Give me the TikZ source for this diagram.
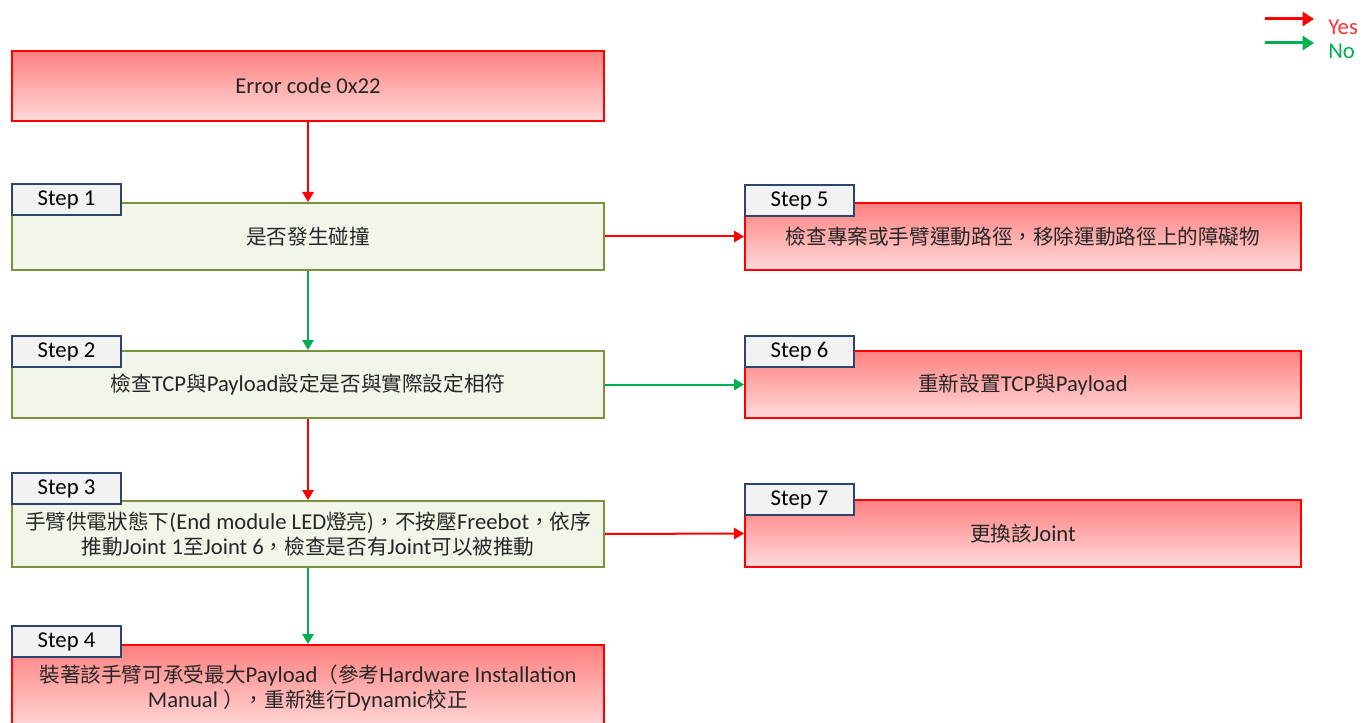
\documentclass[tikz,border=0pt]{standalone}
\usepackage{fontspec}
\setmainfont{Carlito}
\newfontfamily\zhfont[Scale=0.91,Script=CJK,Language=Chinese Traditional]{Noto Sans CJK TC}
\newcommand\zh[1]{{\zhfont #1}}
\usetikzlibrary{arrows.meta}
\definecolor{redline}{HTML}{FF0000}
\definecolor{redtop}{HTML}{FF8080}
\definecolor{redbot}{HTML}{FFDADA}
\definecolor{greenline}{HTML}{77933C}
\definecolor{greenedge}{HTML}{F1F6E8}
\definecolor{greenmid}{HTML}{D8E7BD}
\definecolor{tabline}{HTML}{2B4470}
\definecolor{tabfill}{HTML}{F2F2F2}
\definecolor{yesarrow}{HTML}{FF0000}
\definecolor{noarrow}{HTML}{00B050}
\definecolor{txt}{HTML}{262626}
\tikzset{
  base/.style={anchor=north west, inner sep=0pt, align=center, text=txt,
    font=\fontsize{17}{18.75}\selectfont, line width=1.5pt},
  redbox/.style={base, draw=redline, top color=redtop, bottom color=redbot},
  greenbox/.style={base, draw=greenline, left color=greenedge, middle color=greenmid, right color=greenedge},
  wideL/.style={minimum width=444pt},
  wideR/.style={minimum width=417pt},
  tabbox/.style={base, draw=tabline, fill=tabfill, text=black, minimum width=81.75pt, minimum height=23.25pt},
  yesflow/.style={draw=yesarrow, line width=1.5pt, -{Triangle[length=7.5pt,width=8.5pt]}},
  noflow/.style={draw=noarrow, line width=1.5pt, -{Triangle[length=7.5pt,width=8.5pt]}},
  legendarrow/.style={line width=2.25pt, -{Triangle[length=8.5pt,width=10.5pt]}},
  legendtext/.style={anchor=west, inner sep=0pt, font=\fontsize{17}{18}\selectfont}
}
\begin{document}
\begin{tikzpicture}[x=0.75pt,y=-0.75pt]
\useasboundingbox (0,0) rectangle (1362,723);
\clip (0,0) rectangle (1362,723);

% main boxes
\node[redbox, wideL, minimum height=52.5pt] (err) at (11,50) {Error code 0x22};
\node[greenbox, wideL, minimum height=50.25pt] (s1) at (11,202) {\zh{是否發生碰撞}};
\node[greenbox, wideL, minimum height=50.25pt] (s2) at (11,350) {\zh{檢查}TCP\zh{與}Payload\zh{設定是否與實際設定相符}};
\node[greenbox, wideL, minimum height=49.5pt] (s3) at (11,500) {\zh{手臂供電狀態下}(End module LED\zh{燈亮)，不按壓}Freebot\zh{，依序}\\[0.5pt]\zh{推動}Joint 1\zh{至}Joint 6\zh{，檢查是否有}Joint\zh{可以被推動}};
\node[redbox, wideL, minimum height=64.5pt] (s4) at (11,644) {\zh{裝著該手臂可承受最大}Payload\zh{（參考}Hardware Installation\\[-0.5pt]Manual \zh{），重新進行}Dynamic\zh{校正}};
\node[redbox, wideR, minimum height=50.25pt] (s5) at (744,202) {\zh{檢查專案或手臂運動路徑，移除運動路徑上的障礙物}};
\node[redbox, wideR, minimum height=50.25pt] (s6) at (744,350) {\zh{重新設置}TCP\zh{與}Payload};
\node[redbox, wideR, minimum height=50.25pt] (s7) at (744,499) {\zh{更換該}Joint};

% tabs
\node[tabbox] (t1) at (11,183) {Step 1};
\node[tabbox] (t2) at (11,335) {Step 2};
\node[tabbox] (t3) at (11,472) {Step 3};
\node[tabbox] (t4) at (11,625) {Step 4};
\node[tabbox] (t5) at (744,184) {Step 5};
\node[tabbox] (t6) at (744,335) {Step 6};
\node[tabbox] (t7) at (744,483) {Step 7};

% flow
\draw[yesflow] (err.south) -- (s1.north);
\draw[noflow] (s1.south) -- (s2.north);
\draw[yesflow] (s2.south) -- (s3.north);
\draw[noflow] (s3.south) -- (s4.north);
\draw[yesflow] (s1.east) -- (s5.west);
\draw[noflow] (s2.east) -- (s6.west);
\draw[yesflow] (s3.east) -- (s7.west);

% legend
\coordinate (ya) at (1265,19);
\coordinate (yb) at (1314,19);
\coordinate (na) at (1265,43);
\coordinate (nb) at (1314,43);
\draw[legendarrow, draw=yesarrow, fill=yesarrow] (ya) -- (yb);
\draw[legendarrow, draw=noarrow, fill=noarrow] (na) -- (nb);
\node[legendtext, text=yesarrow!80!white] (yes) at (1328,27) {Yes};
\node[legendtext, text=noarrow] (no) at (1328,51) {No};
\end{tikzpicture}
\end{document}
